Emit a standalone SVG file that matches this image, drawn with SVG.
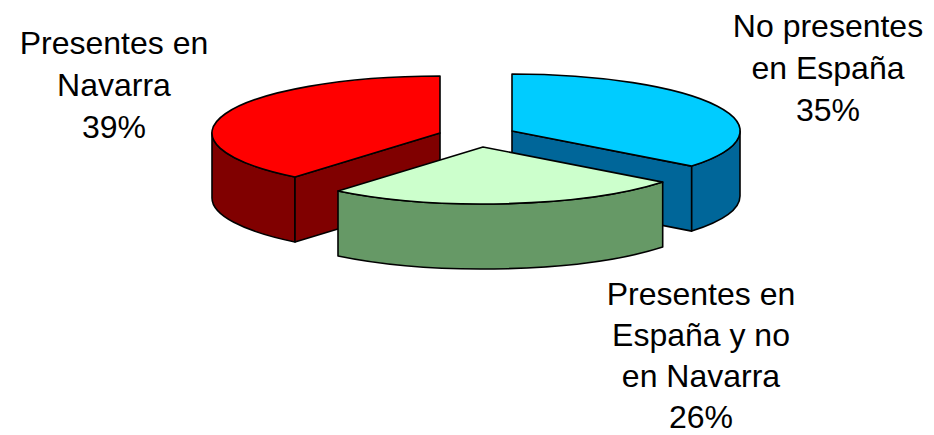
<svg xmlns="http://www.w3.org/2000/svg" width="934" height="435" viewBox="0 0 934 435">
<style>
.f{stroke:#000;stroke-width:1.6;stroke-linejoin:round}
.lbl{font-family:"Liberation Sans",Arial,sans-serif;font-size:32px;fill:#000;text-anchor:middle}
</style>
<rect width="934" height="435" fill="#fff"/>
<g id="slice-navarra">
<path class="f" fill="#800000" d="M212,133 A228,57 0 0 0 295,177 L295,242 A228,57 0 0 1 212,198 Z"/>
<path class="f" fill="#800000" d="M440,133 L295,177 L295,242 L440,198 Z"/>
<path class="f" fill="#FF0000" d="M440,133 L440,76 A228,57 0 0 0 295,177 Z"/>
</g>
<g id="slice-no-espana">
<path class="f" fill="#006699" d="M512,131 L691.7,166.1 L691.7,231.1 L512,196 Z"/>
<path class="f" fill="#006699" d="M691.7,166.1 A228,57 0 0 0 740,131 L740,196 A228,57 0 0 1 691.7,231.1 Z"/>
<path class="f" fill="#00CCFF" d="M512,131 L691.7,166.1 A228,57 0 0 0 512,74 Z"/>
</g>
<g id="slice-espana">
<path class="f" fill="#669966" d="M338,191 A228,57 0 0 0 662.7,182.1 L662.7,247.1 A228,57 0 0 1 338,256 Z"/>
<path class="f" fill="#CCFFCC" d="M483,147 L338,191 A228,57 0 0 0 662.7,182.1 Z"/>
</g>
<g id="label-navarra" class="lbl">
<text x="114" y="54">Presentes en</text>
<text x="114" y="96">Navarra</text>
<text x="114" y="138">39%</text>
</g>
<g id="label-no-espana" class="lbl">
<text x="828" y="37">No presentes</text>
<text x="828" y="79">en España</text>
<text x="828" y="121">35%</text>
</g>
<g id="label-espana" class="lbl">
<text x="701" y="305">Presentes en</text>
<text x="701" y="346">España y no</text>
<text x="701" y="387">en Navarra</text>
<text x="701" y="428">26%</text>
</g>
</svg>
